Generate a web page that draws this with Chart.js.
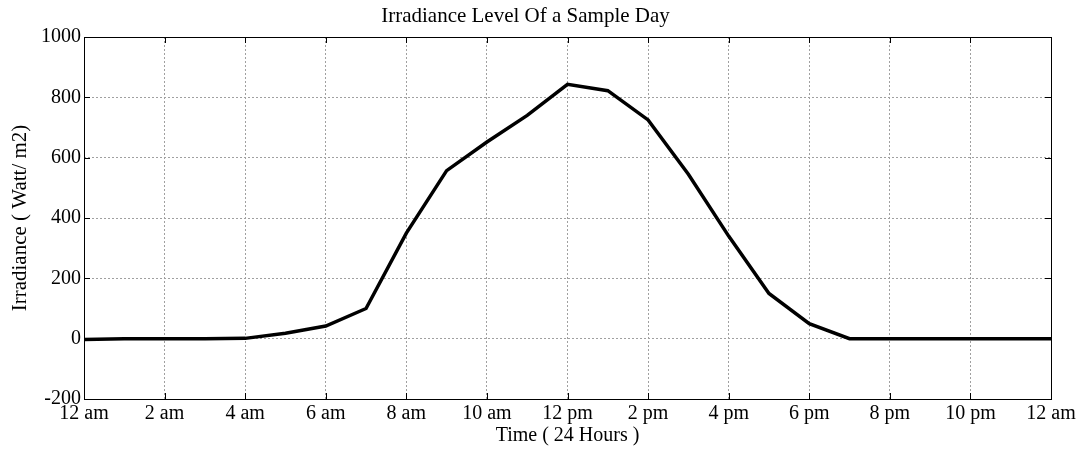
<!DOCTYPE html>
<html>
<head>
<meta charset="utf-8">
<script src="https://cdn.jsdelivr.net/npm/chart.js@4/dist/chart.umd.min.js"></script>
<style>
html,body{margin:0;padding:0;background:#fff;}
#wrap{width:1084px;height:452px;position:relative;}
</style>
</head>
<body>
<div id="wrap"><canvas id="irrChart"></canvas></div>
<script>
// hours of the day and irradiance
var hours = [0,1,2,3,4,5,6,7,8,9,10,11,12,13,14,15,16,17,18,19,20,21,22,23,24];
var irradiance = [-3,0,0,0,1,18,42,100,350,557,652,740,843,822,725,545,340,150,50,0,0,0,0,0,0];
var xTickLabels = ["12 am","2 am","4 am","6 am","8 am","10 am","12 pm","2 pm","4 pm","6 pm","8 pm","10 pm","12 am"];
var yTicks = [-200,0,200,400,600,800,1000];

var serif = "'Liberation Serif', 'Times New Roman', serif";

var points = [];
for(var i=0; i<hours.length; i++){
	points.push({x: hours[i], y: irradiance[i]});
}

// matlab style frame with inward ticks
var boxPlugin = {
	id: 'boxPlugin',
	afterDraw: function(chart){
		var ctx = chart.ctx;
		var a = chart.chartArea;
		var xs = chart.scales.x, ys = chart.scales.y;
		ctx.save();
		ctx.strokeStyle = '#000';
		ctx.lineWidth = 1;
		ctx.strokeRect(a.left+0.5, a.top+0.5, a.right-a.left, a.bottom-a.top);
		ctx.beginPath();
		for(var i=0; i<xTickLabels.length; i++){
			var px = Math.round(xs.getPixelForValue(i*2))+0.5;
			ctx.moveTo(px, a.bottom); ctx.lineTo(px, a.bottom-6);
			ctx.moveTo(px, a.top); ctx.lineTo(px, a.top+6);
		}
		for(var j=0; j<yTicks.length; j++){
			var py = Math.round(ys.getPixelForValue(yTicks[j]))+0.5;
			ctx.moveTo(a.left, py); ctx.lineTo(a.left+6, py);
			ctx.moveTo(a.right, py); ctx.lineTo(a.right-6, py);
		}
		ctx.stroke();
		ctx.restore();
	}
};

var ctx = document.getElementById('irrChart').getContext('2d');
new Chart(ctx, {
	type: 'line',
	data: {
		datasets: [{
			label: 'Irradiance',
			data: points,
			borderColor: '#000',
			borderWidth: 3.5,
			pointRadius: 0,
			tension: 0,
			fill: false
		}]
	},
	options: {
		responsive: true,
		maintainAspectRatio: false,
		animation: false,
		layout: {padding: {left: 0, right: 33, top: 0, bottom: 0}},
		plugins: {
			legend: {display: false},
			tooltip: {enabled: false},
			title: {
				display: true,
				text: 'Irradiance Level Of a Sample Day',
				color: '#000',
				font: {family: serif, size: 21, weight: 'normal'},
				padding: {top: 4, bottom: 7.8}
			}
		},
		scales: {
			x: {
				type: 'linear',
				min: 0,
				max: 24,
				afterFit: function(scale){ scale.height = 53; },
				afterBuildTicks: function(scale){
					scale.ticks = xTickLabels.map(function(l, i){ return {value: i*2}; });
				},
				ticks: {
					color: '#000',
					padding: 3,
					maxRotation: 0,
					autoSkip: false,
					font: {family: serif, size: 20},
					callback: function(v){ return xTickLabels[v/2]; }
				},
				grid: {color: '#a0a0a0', lineWidth: 1, drawTicks: false},
				border: {display: false, dash: [2,2]},
				title: {
					display: true,
					text: 'Time ( 24 Hours )',
					color: '#000',
					font: {family: serif, size: 20},
					padding: {top: 0, bottom: 4}
				}
			},
			y: {
				min: -200,
				max: 1000,
				afterFit: function(scale){ scale.width = 84; },
				afterBuildTicks: function(scale){
					scale.ticks = yTicks.map(function(v){ return {value: v}; });
				},
				ticks: {
					color: '#000',
					padding: 3,
					font: {family: serif, size: 20},
					callback: function(v){ return String(v); }
				},
				grid: {color: '#a0a0a0', lineWidth: 1, drawTicks: false},
				border: {display: false, dash: [2,2]},
				title: {
					display: true,
					text: 'Irradiance ( Watt/ m2)',
					color: '#000',
					font: {family: serif, size: 21},
					padding: {top: 8, bottom: 0}
				}
			}
		}
	},
	plugins: [boxPlugin]
});
</script>
</body>
</html>
